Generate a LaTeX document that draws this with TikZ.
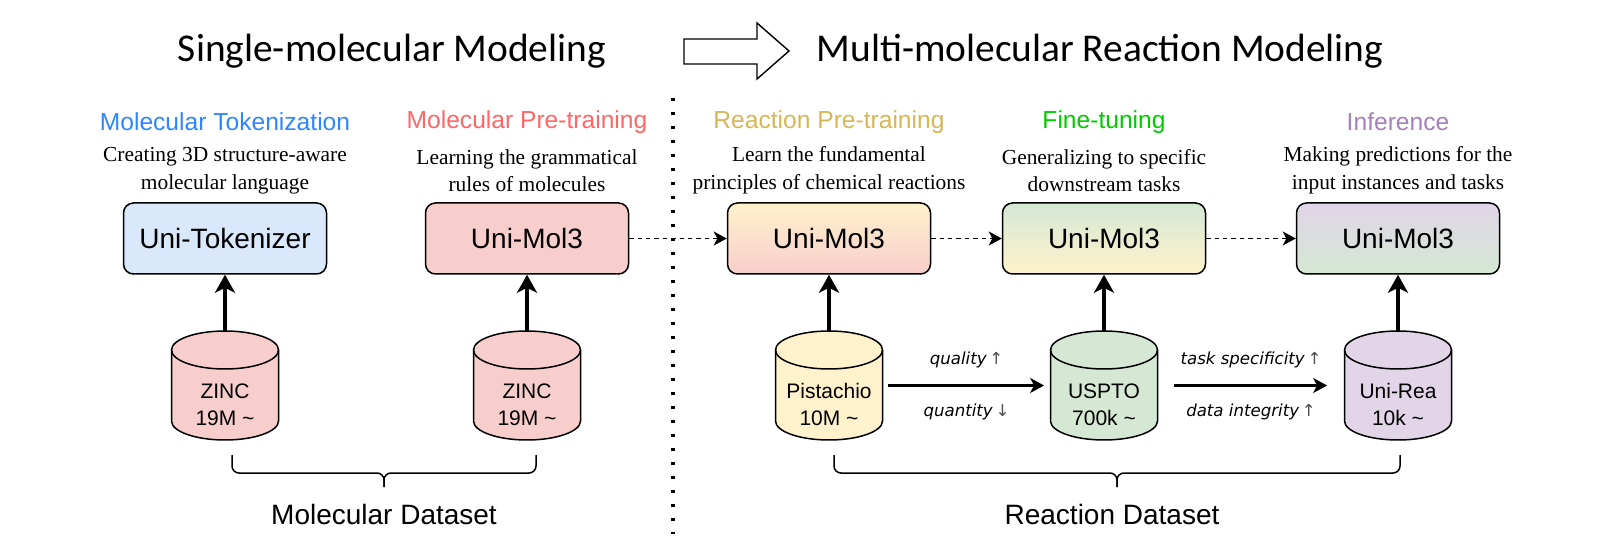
\documentclass[tikz,border=0pt]{standalone}
\usepackage{fontspec}
\usetikzlibrary{arrows.meta}
\newfontfamily\arialf{Liberation Sans}
\newfontfamily\timesf{Liberation Serif}
\newfontfamily\titlef{Carlito}
\newfontfamily\notef{DejaVu Sans}
\definecolor{tokblue}{RGB}{45,135,255}
\definecolor{prered}{RGB}{255,102,102}
\definecolor{reacgold}{RGB}{214,182,86}
\definecolor{tunegreen}{RGB}{0,204,0}
\definecolor{infpurple}{RGB}{166,128,184}
\definecolor{fillblue}{RGB}{218,232,252}
\definecolor{fillred}{RGB}{248,206,204}
\definecolor{fillyellow}{RGB}{255,242,204}
\definecolor{fillgreen}{RGB}{213,232,212}
\definecolor{fillpurple}{RGB}{225,213,231}
\newcommand{\upmark}{\,{\upshape\color{black!70}↑}}
\newcommand{\downmark}{\,{\upshape\color{black!70}↓}}
\tikzset{
    box/.style={draw, rounded corners=5pt, line width=0.75pt, minimum width=101.5pt, minimum height=35.5pt, font=\arialf\fontsize{14}{16}\selectfont},
    stage/.style={font=\arialf\fontsize{12.3}{14}\selectfont},
    desc/.style={align=center, font=\timesf\fontsize{10.7}{13.8}\selectfont},
    db/.style={minimum width=53.5pt, minimum height=54.5pt, inner sep=0pt},
    dbtext/.style={align=center, font=\arialf\fontsize{10.5}{13.5}\selectfont},
    feed/.style={-{Stealth[length=9pt, width=10pt, inset=2.5pt]}, line width=2pt},
    pass/.style={-{Stealth[length=6.5pt, width=7pt, inset=1.8pt]}, line width=0.85pt, dash pattern=on 2.2pt off 2pt},
    trend/.style={-{Stealth[length=7pt, width=7.5pt, inset=2pt]}, line width=1.4pt},
    note/.style={font=\notef\itshape\fontsize{8.3}{9.5}\selectfont},
    dataset/.style={font=\arialf\fontsize{14}{16}\selectfont},
    headline/.style={font=\titlef\fontsize{19.7}{22}\selectfont},
    brace/.style={line width=0.75pt, rounded corners=3.5pt}
}
\begin{document}
\begin{tikzpicture}[x=0.5pt, y=0.5pt]
    \useasboundingbox (0,0) rectangle (1611,557);

    % top line
    \node[headline] (single) at (392,506) {Single-molecular Modeling};
    \node[headline] (multi) at (1100,506) {Multi-molecular Reaction Modeling};
    \draw[line width=0.7pt, fill=white] (684,518) -- (757,518) -- (757,534) -- (789,506) -- (757,478) -- (757,493) -- (684,493) -- cycle;
    \draw[line width=1.6pt, dash pattern=on 1.6pt off 5.4pt] (673,459) -- (673,23);

    % stages
    \node[box, fill=fillblue] (tok) at (225,318.5) {Uni-Tokenizer};
    \node[desc] (tokdesc) at (225,386.5) {Creating 3D structure-aware\\molecular language};
    \node[stage, text=tokblue] (tokhead) at (225,435) {Molecular Tokenization};

    \node[box, fill=fillred] (pre) at (527,318.5) {Uni-Mol3};
    \node[desc] (predesc) at (527,386.5) {Learning the grammatical\\rules of molecules};
    \node[stage, text=prered] (prehead) at (527,435) {Molecular Pre-training};

    \node[box, top color=fillyellow, bottom color=fillred] (reac) at (829,318.5) {Uni-Mol3};
    \node[desc] (reacdesc) at (829,386.5) {Learn the fundamental\\principles of chemical reactions};
    \node[stage, text=reacgold] (reachead) at (829,435) {Reaction Pre-training};

    \node[box, top color=fillgreen, bottom color=fillyellow] (tune) at (1104,318.5) {Uni-Mol3};
    \node[desc] (tunedesc) at (1104,386.5) {Generalizing to specific\\downstream tasks};
    \node[stage, text=tunegreen] (tunehead) at (1104,435) {Fine-tuning};

    \node[box, top color=fillpurple, bottom color=fillgreen] (infer) at (1398,318.5) {Uni-Mol3};
    \node[desc] (inferdesc) at (1398,386.5) {Making predictions for the\\input instances and tasks};
    \node[stage, text=infpurple] (inferhead) at (1398,435) {Inference};

    % datasets
    \foreach \n/\x/\col/\lab/\size in {zincA/225/fillred/ZINC/19M, zincB/527/fillred/ZINC/19M, pist/829/fillyellow/Pistachio/10M, uspto/1104/fillgreen/USPTO/700k, unirea/1398/fillpurple/Uni-Rea/10k}{
        \filldraw[line width=0.75pt, fill=\col] (\x-53.5,207) -- (\x-53.5,136) arc[start angle=180, end angle=360, x radius=26.75pt, y radius=9.5pt] -- (\x+53.5,207) arc[start angle=0, end angle=180, x radius=26.75pt, y radius=9.5pt] -- cycle;
        \draw[line width=0.75pt] (\x-53.5,207) arc[start angle=180, end angle=360, x radius=26.75pt, y radius=9.5pt];
        \node[db] (\n) at (\x,171.5) {};
        \node[dbtext] (\n-text) at (\x,152.5) {\lab\\\size\ \textasciitilde};
    }

    \foreach \db/\mdl in {zincA/tok, zincB/pre, pist/reac, uspto/tune, unirea/infer}
        \draw[feed] (\db) -- (\mdl);

    \draw[pass] (pre) -- (reac);
    \draw[pass] (reac) -- (tune);
    \draw[pass] (tune) -- (infer);

    \draw[trend, shorten <=2.5pt, shorten >=3pt] (pist) -- (uspto)
        node[note, midway, yshift=13pt] {quality\upmark}
        node[note, midway, yshift=-13pt] {quantity\downmark};
    \draw[trend, shorten <=8pt, shorten >=8.5pt] (uspto) -- (unirea)
        node[note, midway, yshift=13pt] {task specificity\upmark}
        node[note, midway, yshift=-13pt] {data integrity\upmark};

    % braces
    \draw[brace] (232,102) -- (232,84) -- (384,84) -- (384,70);
    \draw[brace] (536,102) -- (536,84) -- (384,84) -- (384,70);
    \node[dataset] (moldata) at (384,43) {Molecular Dataset};

    \draw[brace] (834,102) -- (834,84) -- (1117,84) -- (1117,70);
    \draw[brace] (1400,102) -- (1400,84) -- (1117,84) -- (1117,70);
    \node[dataset] (reacdata) at (1112,43) {Reaction Dataset};
\end{tikzpicture}
\end{document}
